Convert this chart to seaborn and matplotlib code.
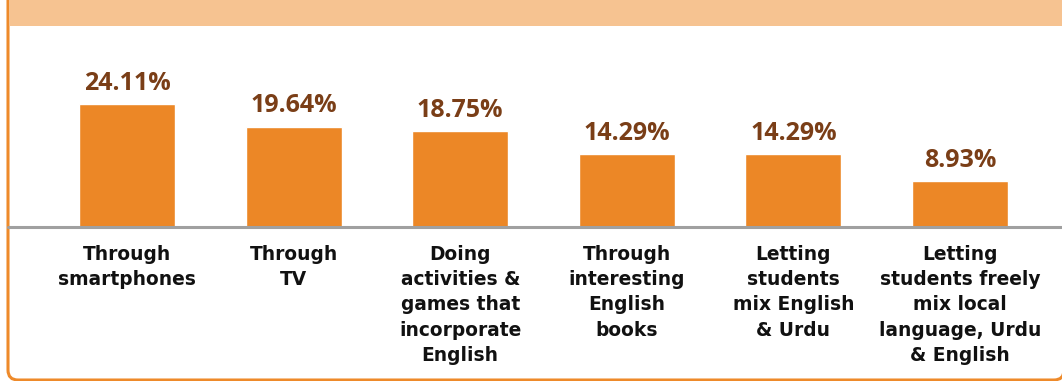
import matplotlib
matplotlib.use("Agg")
import matplotlib.pyplot as plt
from matplotlib.patches import FancyBboxPatch, Rectangle
from matplotlib.transforms import Affine2D
import seaborn as sns

categories = [
    "Through\nsmartphones",
    "Through\nTV",
    "Doing\nactivities &\ngames that\nincorporate\nEnglish",
    "Through\ninteresting\nEnglish\nbooks",
    "Letting\nstudents\nmix English\n& Urdu",
    "Letting\nstudents freely\nmix local\nlanguage, Urdu\n& English",
]
shares = [24.11, 19.64, 18.75, 14.29, 14.29, 8.93]

BAR = "#EC8726"
LABEL = "#7A3E17"
BAND = "#F6C391"
EDGE = "#EE8A2A"
BASE = "#A0A0A0"

W, H = 1062, 381
sns.set_theme(style="white")
fig = plt.figure(figsize=(W / 100, H / 100), dpi=100)
fig.patch.set_facecolor("white")

# pixel coordinates (origin bottom-left) mapped onto the figure
px = Affine2D().scale(1 / W, 1 / H) + fig.transFigure

# rounded outer frame and the header band
frame = FancyBboxPatch((8, 1), 1056, 420, boxstyle="round,pad=0,rounding_size=10",
                       transform=px, facecolor="white", edgecolor=EDGE, linewidth=2.2,
                       zorder=-2)
fig.patches.append(frame)
band = Rectangle((9, H - 26), W, 30, transform=px, facecolor=BAND, edgecolor="none",
                 zorder=-1)
fig.patches.append(band)

# axes: baseline at y=226.5 px from top, ~5.08 px per percentage point
base_y = H - 226.5
scale = 5.08
top_y = H - 26
ax = fig.add_axes([8 / W, base_y / H, (W - 8) / W, (top_y - base_y) / H])
ax.patch.set_alpha(0)
ax.set_zorder(1)

pitch = 166.6
left = -0.5 - (43.7 - 8) / pitch
right = 5.5 + (W - 1043.3) / pitch

sns.barplot(x=categories, y=shares, color=BAR, saturation=1, width=96 / pitch, ax=ax)
ax.set_xlim(left, right)
ax.set_ylim(0, (top_y - base_y) / scale)

for c in ax.containers:
    ax.bar_label(c, labels=[f"{v:.2f}%" for v in shares], padding=6,
                 fontsize=18, fontweight="bold", color=LABEL, family="Open Sans")

for s in ax.spines.values():
    s.set_visible(False)
ax.axhline(0, color=BASE, linewidth=2.2, zorder=3, clip_on=False)
ax.set_yticks([])
ax.tick_params(axis="x", length=0, pad=13)
for t in ax.get_xticklabels():
    t.set_fontsize(13.4)
    t.set_fontweight("bold")
    t.set_color("#111111")
    t.set_linespacing(1.43)
    t.set_multialignment("center")
    t.set_family("DejaVu Sans")

fig.savefig("out.png", dpi=100)
